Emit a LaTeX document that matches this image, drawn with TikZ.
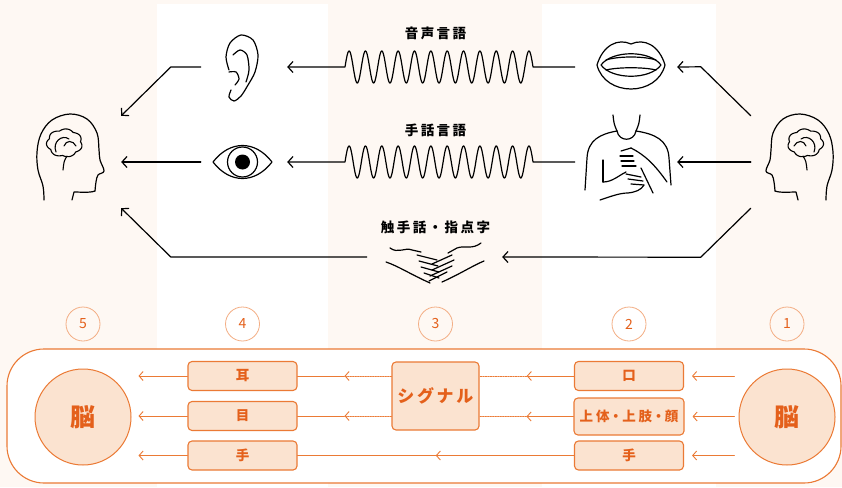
\documentclass[tikz,border=0pt]{standalone}
\usepackage{fontspec}
\usepackage{tikz}
\usetikzlibrary{arrows.meta,calc}
\newfontfamily\jp{Noto Sans CJK JP}
\newfontfamily\jplabel{Noto Sans CJK JP}[LetterSpace=18]
\newfontfamily\jpnarrow{Noto Sans CJK JP}[RawFeature=+palt,LetterSpace=22]
\definecolor{cream}{HTML}{FEF8F3}
\definecolor{orline}{HTML}{EB7A35}
\definecolor{ortext}{HTML}{E4601B}
\definecolor{peach}{HTML}{FBE3D0}
\definecolor{numline}{HTML}{F3AE84}

\begin{document}
\begin{tikzpicture}[x=1pt,y=-1pt,line cap=round,line join=round,
  iconbox/.style={inner sep=0pt,minimum width=#1,minimum height=60},
  wire/.style={line width=1.2pt,-{Straight Barb[length=5pt,width=11pt]}},
  medium/.style={font={\jplabel\bfseries\fontsize{13.5}{14}\selectfont}},
  flow/.style={orline,line width=0.9pt},
  flowarrow/.style={flow,-{Straight Barb[length=4pt,width=9pt]}},
  signal/.style={flow,dash pattern=on 1.4pt off 1.1pt},
  part/.style={draw=orline,fill=peach,line width=1.1pt,rounded corners=4pt,
    minimum width=109,minimum height=29,inner sep=0pt,text=ortext,
    font={\jpnarrow\bfseries\fontsize{13.5}{14}\selectfont}},
  hub/.style={circle,draw=orline,fill=peach,line width=1pt,minimum size=96,
    text=ortext,font={\jp\bfseries\fontsize{25}{26}\selectfont}},
  num/.style={circle,draw=numline,line width=0.8pt,minimum size=34,inner sep=0pt,
    text=ortext,font={\jp\fontsize{14}{14}\selectfont}}]

% page and the two light columns
\fill[cream] (0,0) rectangle (842,487);
\fill[white] (157,4) rectangle (328,487);
\fill[white] (542,4) rectangle (716,487);

% heads (left one faces right, right one is its mirror)
\foreach \side in {0,1}{
\begin{scope}[shift={(870*\side,0)},xscale=1-2*\side,line width=1.2pt]
  \draw plot[smooth,tension=0.6] coordinates {(44,200) (43,186) (38,170) (37,152) (41,134)
    (52,120) (70,114) (87,119) (97,133) (99,150) (100,160) (104,171) (98,175) (96,182) (95,191)};
  \draw (95,191) .. controls (90,193) and (80,192) .. (74,192) -- (72,200);
  % brain
  \draw[line width=1.1pt] plot[domain=0:360,samples=240]
    ({64.5+16*cos(\x)*(1+0.13*abs(sin(3.5*\x+20)))},{143+12.5*sin(\x)*(1+0.13*abs(sin(3.5*\x+20)))}) -- cycle;
  \draw[line width=1.1pt] (56,152) .. controls (52,142) and (62,134) .. (69,139);
  \draw[line width=1.1pt] (64,146) .. controls (66,140) and (73,140) .. (76,146);
  \draw[line width=1.1pt] (67,156) .. controls (64,161) .. (63,170);
\end{scope}}

% ear
\begin{scope}[line width=1.2pt]
  \draw plot[smooth] coordinates {(229,70) (226,57) (230,43) (241,35) (253,40) (258,55)
    (255,72) (248,85) (241,96) (234,101) (229,97) (231,90)};
  \draw plot[smooth] coordinates {(233,55) (240,50) (247,55) (249,70) (246,82)};
  \draw plot[smooth] coordinates {(229,72) (236,72) (239,79) (235,85)};
\end{scope}

% eye
\draw[line width=1.2pt] (213,162) .. controls (230,140) and (255,140) .. (272,162)
  .. controls (255,184) and (230,184) .. cycle;
\draw[line width=1.2pt] (242.5,162) circle[radius=15];
\fill (242.5,162) circle[radius=7.5];

% mouth
\begin{scope}[line width=1.2pt]
  \draw (597,65) .. controls (603,45) and (618,38) .. (631,44)
    .. controls (644,38) and (659,45) .. (665,65)
    .. controls (657,97) and (605,97) .. cycle;
  \draw (601,65) .. controls (612,50) and (650,50) .. (661,65)
    .. controls (650,80) and (612,80) .. cycle;
  \draw (606,60) .. controls (618,56) and (644,56) .. (656,60);
  \draw (606,70) .. controls (618,67) and (644,67) .. (656,70);
\end{scope}

% signing torso
\begin{scope}[line width=1.2pt]
  \draw (613,115) .. controls (614,124) .. (617,131);
  \draw (640,115) .. controls (639,124) .. (636,131);
  \draw (617,131) .. controls (619,142) and (634,142) .. (636,131);
  \draw (617,131) .. controls (600,134) and (588,140) .. (587,158) -- (585,190);
  \draw (636,131) .. controls (655,134) and (668,140) .. (669,158) -- (671,185);
  \draw (603,160) -- (603,182);
  \draw (603,182) .. controls (612,182) and (618,176) .. (626,172);
  \draw (600,200) .. controls (612,196) and (620,193) .. (628,193)
    .. controls (636,192) and (641,190) .. (644,185);
  \draw (626,174) -- (641,177);
  \draw (628,179) -- (643,181);
  \draw (631,184) -- (644,185);
  \draw (631,148) -- (621,151);
  \draw (620,156) -- (633,156);
  \draw (621,161) -- (634,161);
  \draw (622,166) -- (636,166);
  \draw (631,148) .. controls (645,155) and (655,165) .. (667,182);
  \draw (641,168) -- (653,193);
\end{scope}

% touching hands
\begin{scope}[line width=1.2pt]
  \draw (390,248) .. controls (398,254) and (405,247) .. (412,250) -- (421,252);
  \draw (386,262) .. controls (398,266) and (410,274) .. (430,283);
  \draw (417,255) -- (437,260);
  \draw (419,261) -- (438,266);
  \draw (421,267) -- (439,272);
  \draw (424,273) -- (439,278);
  \draw (481,243) .. controls (472,250) and (465,245) .. (457,248) -- (448,253);
  \draw (484,261) .. controls (472,266) and (460,274) .. (442,282);
  \draw (452,255) -- (432,264);
  \draw (454,260) -- (432,270);
  \draw (452,266) -- (430,276);
  \draw (447,272) -- (429,281);
\end{scope}

% invisible holders for the icons
\node[iconbox=102,minimum height=92] (headL) at (70,162) {};
\node[iconbox=82,minimum height=92] (headR) at (792,162) {};
\node[iconbox=86] (ear) at (244,67) {};
\node[iconbox=86] (eye) at (244,162) {};
\node[iconbox=102] (mouth) at (626,67) {};
\node[iconbox=102] (torso) at (626,162) {};
\node[iconbox=135,minimum height=40] (hands) at (434.5,257) {};

\node[medium] (voice) at (435.5,33) {音声言語};
\node[medium] (signed) at (435.5,130) {手話言語};
\node[medium] (tactile) at (435.5,227) {触手話・指点字};

% spoken
\draw[wire] (headR.north west) -- ++(-50,-49) -- (mouth.east);
\draw[wire] (mouth.west) -- (533,67)
  -- plot[domain=533:345,samples=400] (\x,{67-16*sin(22.018*(\x-345))}) -- (ear.east);
\draw[wire] (ear.west) -- ++(-30,0) -- (headL.north east);
% signed
\draw[wire] (headR.west) -- (torso.east);
\draw[wire] (torso.west) -- (533,162)
  -- plot[domain=533:345,samples=400] (\x,{162-16*sin(22.018*(\x-345))}) -- (eye.east);
\draw[wire] (eye.west) -- (headL.east);
% tactile
\draw[wire] (headR.south west) -- ++(-50,49) -- (hands.east);
\draw[wire] (hands.west) -- ++(-196,0) -- (headL.south east);

% step numbers
\node[num] (n5) at (83,324) {5};
\node[num] (n4) at (242.5,324) {4};
\node[num] (n3) at (435.5,324) {3};
\node[num] (n2) at (629,324) {2};
\node[num] (n1) at (787,324) {1};

% flow chart
\draw[flow,fill=white,line width=1.1pt,rounded corners=37pt] (7,349) rectangle (841,483);
\node[hub] (brainout) at (83,417) {脳};
\node[hub] (brainin) at (787,417) {脳};
\node[part] (ear2) at (242.5,376) {耳};
\node[part] (eye2) at (242.5,416) {目};
\node[part] (hand2) at (242.5,455.5) {手};
\node[part] (mouth2) at (629,376) {口};
\node[part,minimum width=110,minimum height=37] (body2) at (629,416.5) {上体・上肢・顔};
\node[part] (handr2) at (629,455.5) {手};
\node[part,minimum width=87,minimum height=68,
  font={\jpnarrow\bfseries\fontsize{17}{18}\selectfont}] (signal) at (435.5,396) {シグナル};

\foreach \b in {mouth2,body2,handr2}
  \draw[flowarrow,shorten <=4pt,shorten >=8pt] (brainin.west |- \b.east) -- (\b.east);
\foreach \b in {ear2,eye2,hand2}
  \draw[flowarrow,shorten >=7pt] (\b.west) -- (brainout.east |- \b.west);

\draw[flowarrow] (mouth2.west) -- ($(mouth2.west)!.5!(signal.east |- mouth2.west)$) coordinate (m1);
\draw[signal] (m1) -- (signal.east |- m1);
\draw[flowarrow] (body2.west) -- ($(body2.west)!.5!(signal.east |- body2.west)$) coordinate (m2);
\draw[signal] (m2) -- (signal.east |- m2);
\draw[signal,-{Straight Barb[length=4pt,width=9pt]}] (signal.west |- ear2.east)
  -- ($(signal.west |- ear2.east)!.5!(ear2.east)$) coordinate (m3);
\draw[flow] (m3) -- (ear2.east);
\draw[signal,-{Straight Barb[length=4pt,width=9pt]}] (signal.west |- eye2.east)
  -- ($(signal.west |- eye2.east)!.5!(eye2.east)$) coordinate (m4);
\draw[flow] (m4) -- (eye2.east);
\draw[flowarrow] (handr2.west) -- ($(handr2.west)!.5!(hand2.east)$) coordinate (m5);
\draw[flow] (m5) -- (hand2.east);
\end{tikzpicture}
\end{document}
